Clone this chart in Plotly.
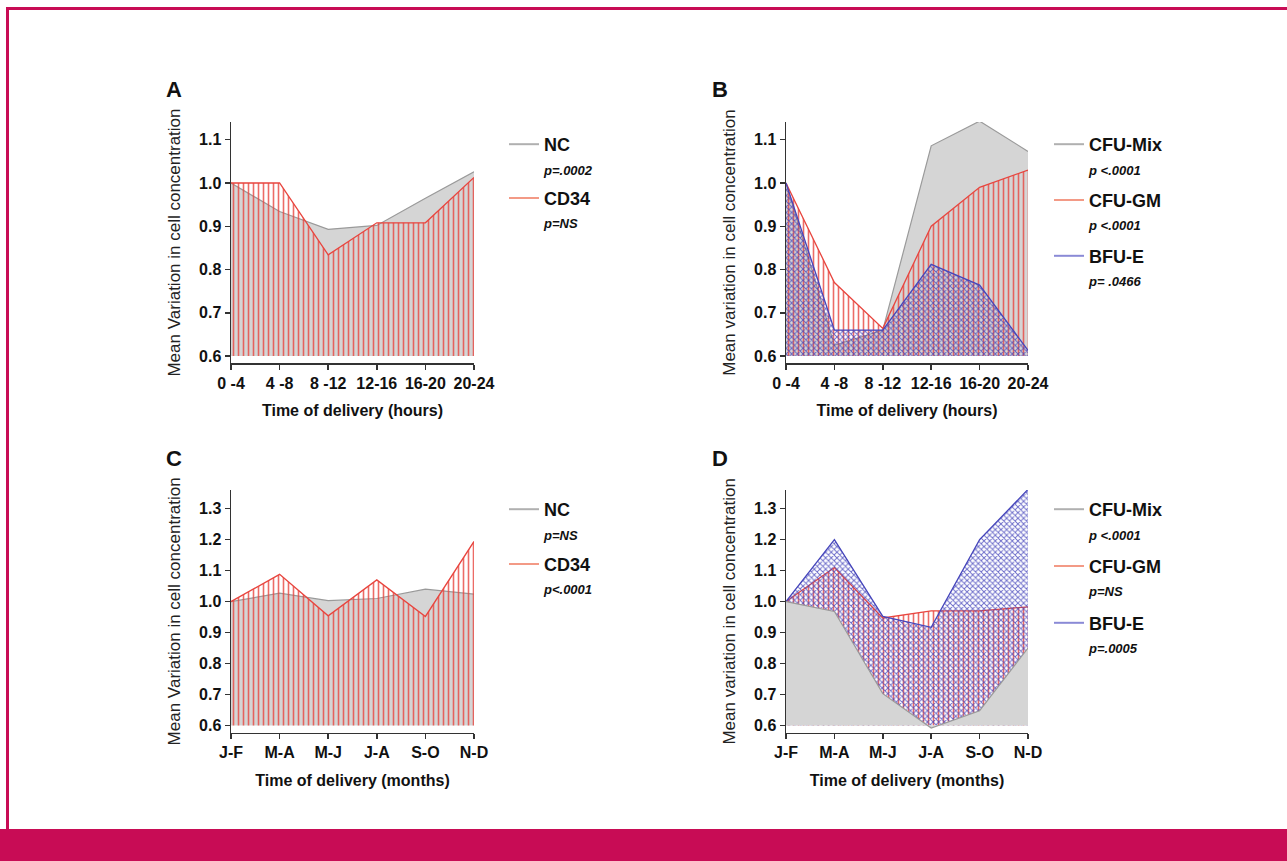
import plotly.graph_objects as go

# ---------------- data ----------------
hours = ["0 -4", "4 -8", "8 -12", "12-16", "16-20", "20-24"]
months = ["J-F", "M-A", "M-J", "J-A", "S-O", "N-D"]

a_nc = [1.0, 0.934, 0.893, 0.902, 0.965, 1.026]
a_cd34 = [1.0, 1.0, 0.834, 0.908, 0.908, 1.013]

b_mix = [1.0, 0.625, 0.66, 1.086, 1.143, 1.073]
b_gm = [1.0, 0.77, 0.664, 0.9, 0.99, 1.03]
b_bfu = [1.0, 0.66, 0.66, 0.812, 0.764, 0.613]

c_nc = [1.0, 1.027, 1.003, 1.01, 1.04, 1.024]
c_cd34 = [1.0, 1.088, 0.954, 1.07, 0.952, 1.194]

d_mix = [1.0, 0.968, 0.703, 0.592, 0.648, 0.85]
d_gm = [1.0, 1.11, 0.947, 0.97, 0.97, 0.983]
d_bfu = [1.0, 1.2, 0.952, 0.917, 1.2, 1.362]

ticks_ab = [0.6, 0.7, 0.8, 0.9, 1.0, 1.1]
ticks_cd = [0.6, 0.7, 0.8, 0.9, 1.0, 1.1, 1.2, 1.3]
BASE = 0.6

legend_a = [("NC", "p=.0002"), ("CD34", "p=NS")]
legend_b = [("CFU-Mix", "p <.0001"), ("CFU-GM", "p <.0001"), ("BFU-E", "p= .0466")]
legend_c = [("NC", "p=NS"), ("CD34", "p<.0001")]
legend_d = [("CFU-Mix", "p <.0001"), ("CFU-GM", "p=NS"), ("BFU-E", "p=.0005")]

# ---------------- styles ----------------
W, H = 1287, 861
GRAY_FILL = "#d5d5d5"
GRAY_LINE = "#9a9a9a"
RED = "#e8463f"
BLUE = "#4646bb"
LEG_GRAY = "#b0b0b0"
LEG_RED = "#f39a86"
LEG_BLUE = "#8a8ad6"
FONT = "Liberation Sans, Arial"
AX = "#333333"

fig = go.Figure()


def add_base(cats, xa, ya):
    fig.add_trace(go.Scatter(x=cats, y=[BASE] * len(cats), mode="lines",
                             line=dict(width=0, color="rgba(0,0,0,0)"),
                             xaxis=xa, yaxis=ya, showlegend=False,
                             hoverinfo="skip"))


def add_gray(cats, vals, xa, ya):
    add_base(cats, xa, ya)
    fig.add_trace(go.Scatter(x=cats, y=vals, mode="lines", fill="tonexty",
                             fillcolor=GRAY_FILL,
                             line=dict(color=GRAY_LINE, width=1.2),
                             xaxis=xa, yaxis=ya, showlegend=False))


def add_red(cats, vals, xa, ya):
    add_base(cats, xa, ya)
    fig.add_trace(go.Scatter(x=cats, y=vals, mode="lines", fill="tonexty",
                             fillcolor="rgba(0,0,0,0)",
                             fillpattern=dict(shape="|", fgcolor=RED,
                                              bgcolor="rgba(0,0,0,0)",
                                              fgopacity=0.8, size=5,
                                              solidity=0.32),
                             line=dict(color=RED, width=1.3),
                             xaxis=xa, yaxis=ya, showlegend=False))


def add_blue(cats, vals, xa, ya):
    add_base(cats, xa, ya)
    fig.add_trace(go.Scatter(x=cats, y=vals, mode="lines", fill="tonexty",
                             fillcolor="rgba(0,0,0,0)",
                             fillpattern=dict(shape="x", fgcolor=BLUE,
                                              bgcolor="rgba(0,0,0,0)",
                                              fgopacity=0.8, size=4,
                                              solidity=0.42),
                             line=dict(color=BLUE, width=1.3),
                             xaxis=xa, yaxis=ya, showlegend=False))


def lab(name, p):
    return ("<b>%s</b><br><span style='font-size:13px'><b><i>%s</i></b></span>"
            % (name, p))


def add_legend(entries, colors, leg, xa, ya):
    for (name, p), col in zip(entries, colors):
        fig.add_trace(go.Scatter(x=[None], y=[None], mode="lines",
                                 line=dict(color=col, width=2),
                                 name=lab(name, p), legend=leg,
                                 legendgroup=leg + name, showlegend=True,
                                 xaxis=xa, yaxis=ya))


# Panel A
add_gray(hours, a_nc, "x", "y")
add_red(hours, a_cd34, "x", "y")
# Panel B
add_gray(hours, b_mix, "x2", "y2")
add_red(hours, b_gm, "x2", "y2")
add_blue(hours, b_bfu, "x2", "y2")
# Panel C
add_gray(months, c_nc, "x3", "y3")
add_red(months, c_cd34, "x3", "y3")
# Panel D (gray drawn on top)
add_red(months, d_gm, "x4", "y4")
add_blue(months, d_bfu, "x4", "y4")
add_gray(months, d_mix, "x4", "y4")

add_legend(legend_a, [LEG_GRAY, LEG_RED], "legend", "x", "y")
add_legend(legend_b, [LEG_GRAY, LEG_RED, LEG_BLUE], "legend2", "x2", "y2")
add_legend(legend_c, [LEG_GRAY, LEG_RED], "legend3", "x3", "y3")
add_legend(legend_d, [LEG_GRAY, LEG_RED, LEG_BLUE], "legend4", "x4", "y4")


def px(v):
    return v / W


def py(v):
    return 1 - v / H


xdom_left = [px(231), px(474)]
xdom_right = [px(786), px(1028)]
ydom_top = [py(363), py(122)]
ydom_bot = [py(732.7), py(490)]

tickfont = dict(family=FONT, size=16, color="#111", weight="bold")
xtitle_font = dict(family=FONT, size=16, color="#111", weight="bold")
ytitle_font = dict(family=FONT, size=17, color="#222")


def xaxis(dom, anchor, title):
    return dict(domain=dom, anchor=anchor, type="category",
                range=[0, 5], showline=True, linecolor=AX, linewidth=1.5,
                ticks="outside", ticklen=5, tickcolor=AX, tickwidth=1.5,
                showgrid=False, zeroline=False, tickfont=tickfont,
                title=dict(text=title, font=xtitle_font, standoff=14),
                automargin=False)


def yaxis(dom, anchor, rng, tv, title):
    return dict(domain=dom, anchor=anchor, range=rng, showline=True,
                linecolor=AX, linewidth=1.5, ticks="outside", ticklen=5,
                tickcolor=AX, tickwidth=1.5, showgrid=False, zeroline=False,
                tickvals=tv, ticktext=["%.1f" % t for t in tv],
                tickfont=tickfont,
                title=dict(text=title, font=ytitle_font, standoff=14),
                automargin=False)


rng_ab = [0.584, 1.141]
rng_cd = [0.577, 1.36]

fig.update_layout(
    width=W, height=H,
    margin=dict(l=0, r=0, t=0, b=0),
    paper_bgcolor="white", plot_bgcolor="rgba(0,0,0,0)",
    font=dict(family=FONT, color="#111"),
    xaxis=xaxis(xdom_left, "y", "Time of delivery (hours)"),
    yaxis=yaxis(ydom_top, "x", rng_ab, ticks_ab,
                "Mean Variation in cell concentration"),
    xaxis2=xaxis(xdom_right, "y2", "Time of delivery (hours)"),
    yaxis2=yaxis(ydom_top, "x2", rng_ab, ticks_ab,
                 "Mean variation in cell concentration"),
    xaxis3=xaxis(xdom_left, "y3", "Time of delivery (months)"),
    yaxis3=yaxis(ydom_bot, "x3", rng_cd, ticks_cd,
                 "Mean Variation in cell concentration"),
    xaxis4=xaxis(xdom_right, "y4", "Time of delivery (months)"),
    yaxis4=yaxis(ydom_bot, "x4", rng_cd, ticks_cd,
                 "Mean variation in cell concentration"),
    hovermode=False,
)

legfont = dict(family=FONT, size=18, color="#111")
for key, x, y, gap in [("legend", 504, 126, 4), ("legend2", 1049, 126, 6),
                       ("legend3", 504, 491, 5), ("legend4", 1049, 491, 7)]:
    fig.layout[key] = dict(x=px(x), y=py(y), xanchor="left", yanchor="top",
                           font=legfont, bgcolor="rgba(0,0,0,0)",
                           itemwidth=30, tracegroupgap=gap, valign="top",
                           traceorder="grouped", itemclick=False)

# panel letters
for t, x, y in [("A", 174, 89), ("B", 720, 89), ("C", 174, 459), ("D", 720, 459)]:
    fig.add_annotation(text="<b>%s</b>" % t, x=px(x), y=py(y), xref="paper",
                       yref="paper", xanchor="center", yanchor="middle",
                       showarrow=False,
                       font=dict(family=FONT, size=22, color="#111"))

# magenta frame
MAG = "#c80c55"
fig.add_shape(type="rect", xref="paper", yref="paper", x0=0, x1=1,
              y0=0, y1=py(829), fillcolor=MAG, line=dict(width=0))
fig.add_shape(type="line", xref="paper", yref="paper", x0=px(6), x1=1,
              y0=py(8.5), y1=py(8.5), line=dict(color=MAG, width=3))
fig.add_shape(type="line", xref="paper", yref="paper", x0=px(7.5), x1=px(7.5),
              y0=py(829), y1=py(7), line=dict(color=MAG, width=3))

fig.write_html("out.html",
               config={"displayModeBar": False, "staticPlot": True},
               post_script="document.body.style.margin='0';"
                           "document.body.style.overflow='hidden';")
